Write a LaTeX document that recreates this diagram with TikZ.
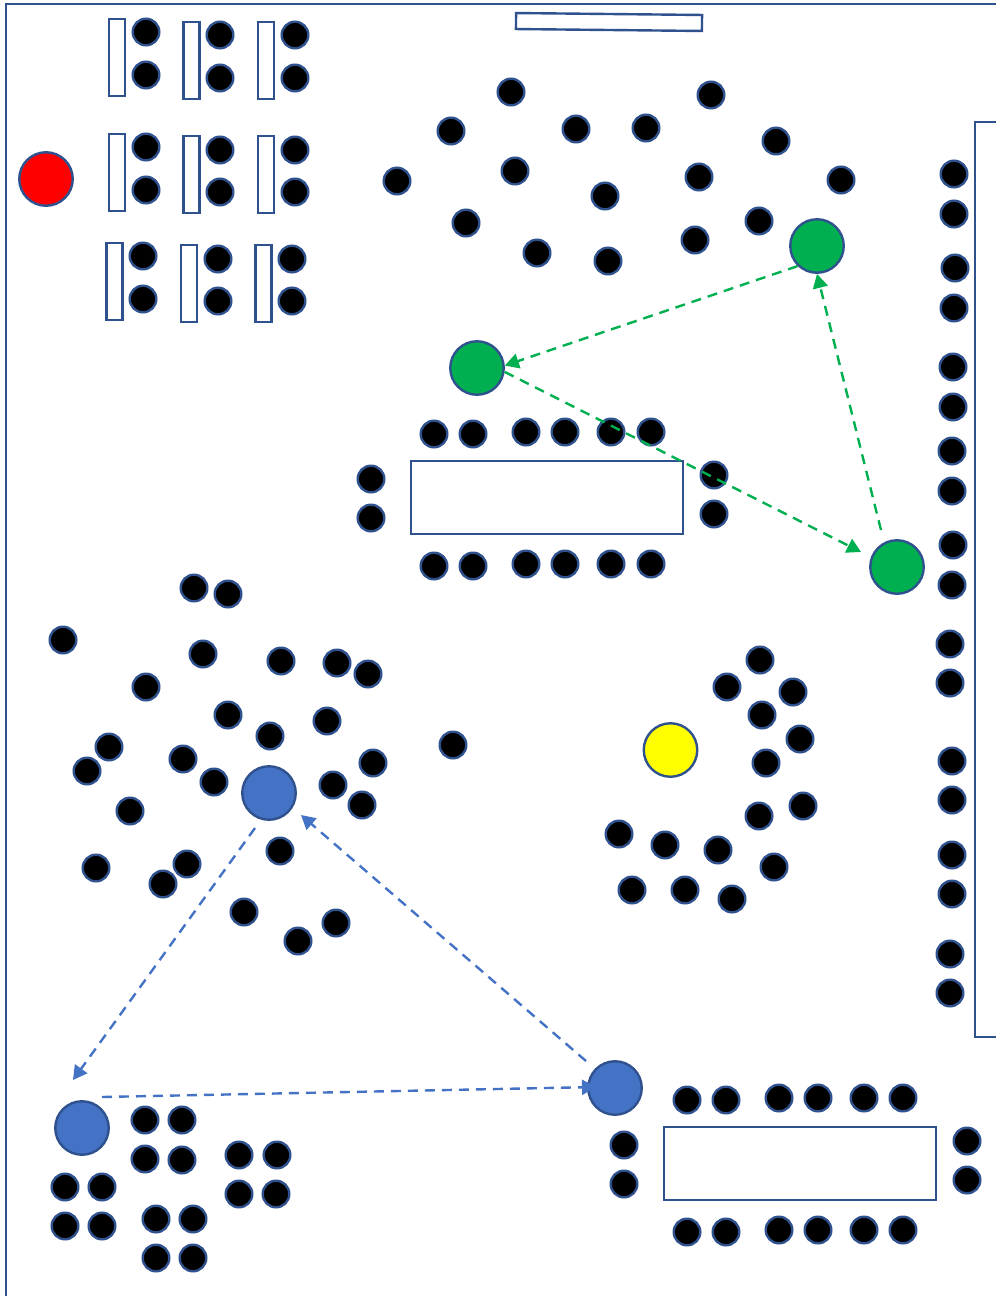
\documentclass[tikz,border=0pt]{standalone}
\usepackage{xcolor}
\usetikzlibrary{arrows.meta,positioning}
\definecolor{edgeblue}{HTML}{2F528F}
\definecolor{fillblue}{HTML}{4472C4}
\definecolor{fillgreen}{HTML}{00B050}
\definecolor{fillred}{HTML}{FF0000}
\definecolor{fillyellow}{HTML}{FFFF00}
\begin{document}
\begin{tikzpicture}[
  x=1pt,y=-1pt,
  seat/.style={draw=edgeblue,circle,fill=black,line width=2.4pt,minimum size=26.6pt,inner sep=0pt},
  person/.style={draw=edgeblue,circle,line width=2.4pt,minimum size=53.5pt,inner sep=0pt},
  furniture/.style={draw=edgeblue,fill=white,line width=2.4pt,inner sep=0pt},
  desk/.style={furniture,minimum width=16pt,minimum height=77pt},
  bigtable/.style={furniture,minimum width=272pt,minimum height=73pt},
  greenflow/.style={-{Triangle[length=14pt,width=15pt]},dash pattern=on 10pt off 7pt,fillgreen,line width=2.4pt},
  blueflow/.style={-{Triangle[length=14pt,width=15pt]},dash pattern=on 10pt off 7pt,fillblue,line width=2.4pt}
]
\useasboundingbox (0,0) rectangle (996,1296);
\draw[edgeblue,line width=2.4pt] (6,1296) -- (6,4) -- (996,4);
\draw[edgeblue,line width=2.4pt] (996,122) -- (975,122) -- (975,1037) -- (996,1037);
\node[furniture,minimum width=186pt,minimum height=16pt,rotate=-0.6] (board) at (609,22) {};
\foreach \x/\y [count=\i] in {117/57.5,191.5/60.5,266/60.5,117/172.5,191.5/174.5,266/174.5,114.5/281.5,189/283.5,263.5/283.5}
  \node[desk] (desk\i) at (\x,\y) {};
\node[bigtable] (table1) at (547,497.5) {};
\node[bigtable] (table2) at (800,1163.5) {};
\foreach \x/\y [count=\i] in {
  146/32,146/75,220/35,220/78,295/35,295/78,146/147,146/190,220/150,220/192,295/150,295/192,
  143/256,143/299,218/259,218/301,292/259,292/301,
  511/92,711/95,451/131,576/129,646/128,776/141,397/181,515/171,605/196,699/177,841/180,
  466/223,537/253,608/261,695/240,759/221,
  954/174,954/214,955/268,954/308,953/367,953/407,952/451,952/491,953/545,952/585,
  950/644,950/683,952/761,952/800,952/855,952/894,950/954,950/993,
  434/434,473/434,526/432,565/432,611/432,651/432,371/479,371/518,714/475,714/514,
  434/566,473/566,526/564,565/564,611/564,651/564,
  194/588,228/594,63/640,203/654,281/661,337/663,368/674,146/687,228/715,327/721,270/736,
  109/747,87/771,183/759,214/782,373/763,333/785,362/805,130/811,453/745,280/851,96/868,
  187/864,163/884,244/912,298/941,336/923,
  760/660,727/687,793/692,762/715,800/739,766/763,759/816,803/806,619/834,665/845,718/850,
  774/867,632/890,685/890,732/899,
  687/1100,726/1100,779/1098,818/1098,864/1098,903/1098,624/1145,624/1184,967/1141,967/1180,
  687/1232,726/1232,779/1230,818/1230,864/1230,903/1230,
  145/1120,182/1120,145/1159,182/1160,239/1155,277/1155,239/1194,276/1194,
  65/1187,102/1187,65/1226,102/1226,156/1219,193/1219,156/1258,193/1258}
  \node[seat] (seat\i) at (\x,\y) {};
\node[person,fill=fillred] (lead) at (46,179) {};
\node[person,fill=fillyellow] (guide) at (670.5,750) {};
\node[person,fill=fillgreen] (green1) at (817,246) {};
\node[person,fill=fillgreen] (green2) at (477,368) {};
\node[person,fill=fillgreen] (green3) at (897,567) {};
\node[person,fill=fillblue] (blue1) at (269,793) {};
\node[person,fill=fillblue] (blue2) at (82,1128) {};
\node[person,fill=fillblue] (blue3) at (615,1088) {};
\coordinate (greenstart) at (881,530);
\coordinate (greentip) at (861,552);
\coordinate (bluestartA) at (255,828);
\coordinate (bluetipA) at (73,1080);
\coordinate (bluestartB) at (102,1097);
\coordinate (bluetipB) at (596,1087);
\coordinate (bluestartC) at (586,1061);
\coordinate (bluetipC) at (301,815);
\draw[greenflow] (green1.226) -- (green2.5);
\draw[greenflow] (greenstart) -- (green1.270);
\draw[greenflow] (green2.352) -- (greentip);
\draw[blueflow] (bluestartA) -- (bluetipA);
\draw[blueflow] (bluestartB) -- (bluetipB);
\draw[blueflow] (bluestartC) -- (bluetipC);
\end{tikzpicture}
\end{document}
